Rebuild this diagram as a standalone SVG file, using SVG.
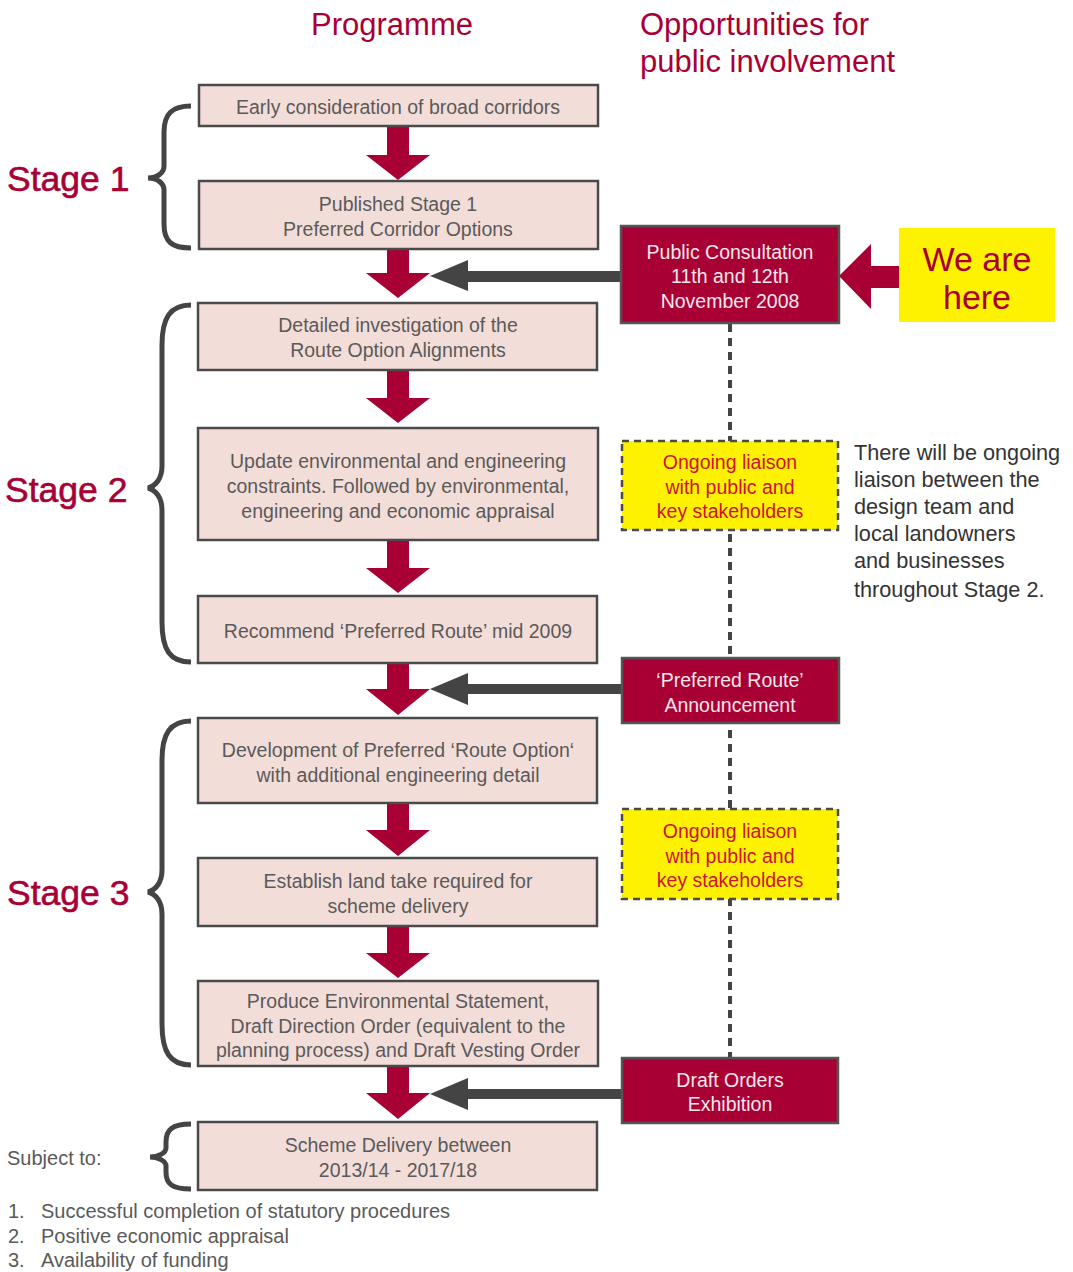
<svg xmlns="http://www.w3.org/2000/svg" width="1073" height="1272" viewBox="0 0 1073 1272">
<style>
.t{font-family:"Liberation Sans",Arial,sans-serif;}
.box{fill:#f3ddd8;stroke:#4a4a4a;stroke-width:2.5;}
.bt{font-size:19.5px;fill:#5a5a5a;text-anchor:middle;}
.red{fill:#a80034;stroke:#555;stroke-width:2.5;}
.rt{font-size:19.5px;fill:#f6e6ea;text-anchor:middle;}
.yel{fill:#fff200;stroke:#4a4a4a;stroke-width:2.5;stroke-dasharray:7 5;}
.yt{font-size:19.5px;fill:#cc1236;text-anchor:middle;}
.stage{font-size:35.5px;fill:#a80034;stroke:#a80034;stroke-width:0.6;}
.hd{font-size:31px;fill:#a80034;}
.brace{fill:none;stroke:#444;stroke-width:5;}
.darr{fill:#a80034;}
.garr{fill:#444;}
.note{font-size:21.7px;fill:#333;}
.ft{font-size:20px;fill:#5a5a5a;}
</style>
<g id="headers">
<text class="t hd" x="392" y="35" text-anchor="middle">Programme</text>
<text class="t hd" x="640" y="35">Opportunities for</text>
<text class="t hd" x="640" y="72">public involvement</text>
</g>
<g id="stage-labels">
<text class="t stage" x="7" y="191">Stage 1</text>
<text class="t stage" x="5" y="502">Stage 2</text>
<text class="t stage" x="7" y="905">Stage 3</text>
</g>
<g id="braces">
<path class="brace" d="M191,106 C172,106 164,114 164,132 L164,166 C164,173 157,178 148,178 C157,178 164,183 164,190 L164,224 C164,242 172,248 191,248"/>
<path class="brace" d="M191,305 C170,305 162,318 162,345 L162,466 C162,478 156,486 148,488 C156,490 162,498 162,510 L162,622 C162,650 170,662 191,662"/>
<path class="brace" d="M191,721 C170,721 162,734 162,760 L162,870 C162,882 156,890 148,892 C156,894 162,902 162,914 L162,1024 C162,1052 170,1065 191,1065"/>
<path class="brace" d="M191,1124 C172,1124 166,1130 166,1142 L166,1148 C166,1153 158,1157 150,1157 C158,1157 166,1161 166,1166 L166,1172 C166,1184 172,1189 191,1189"/>
</g>
<g id="connectors">
<line x1="730" y1="324" x2="730" y2="1058" stroke="#444" stroke-width="4" stroke-dasharray="8 6"/>
<polygon class="darr" points="387,126 409,126 409,155 430,155 398,180 366,155 387,155"/>
<polygon class="darr" points="387,249 409,249 409,273 430,273 398,298 366,273 387,273"/>
<polygon class="darr" points="387,370 409,370 409,398 430,398 398,423 366,398 387,398"/>
<polygon class="darr" points="387,540 409,540 409,568 430,568 398,593 366,568 387,568"/>
<polygon class="darr" points="387,663 409,663 409,689 430,689 398,715 366,689 387,689"/>
<polygon class="darr" points="387,803 409,803 409,830 430,830 398,856 366,830 387,830"/>
<polygon class="darr" points="387,926 409,926 409,953 430,953 398,978 366,953 387,953"/>
<polygon class="darr" points="387,1066 409,1066 409,1093 430,1093 398,1119 366,1093 387,1093"/>
<polygon class="garr" points="622,271 468,271 468,260 430,276 468,291 468,282 622,282"/>
<polygon class="garr" points="622,684 468,684 468,673 430,689 468,705 468,694 622,694"/>
<polygon class="garr" points="622,1089 468,1089 468,1078 430,1094 468,1110 468,1099 622,1099"/>
<polygon class="darr" points="839,276 871,244 871,266 899,266 899,288 871,288 871,309"/>
</g>
<g id="n1"><rect class="box" x="199" y="85" width="399" height="41"/><text class="t bt" x="398" y="114">Early consideration of broad corridors</text></g>
<g id="n2"><rect class="box" x="199" y="181" width="399" height="68"/><text class="t bt" x="398" y="211">Published Stage 1</text><text class="t bt" x="398" y="236">Preferred Corridor Options</text></g>
<g id="n3"><rect class="box" x="198" y="303" width="399" height="67"/><text class="t bt" x="398" y="332">Detailed investigation of the</text><text class="t bt" x="398" y="357">Route Option Alignments</text></g>
<g id="n4"><rect class="box" x="198" y="428" width="400" height="112"/><text class="t bt" x="398" y="468">Update environmental and engineering</text><text class="t bt" x="398" y="493">constraints. Followed by environmental,</text><text class="t bt" x="398" y="518">engineering and economic appraisal</text></g>
<g id="n5"><rect class="box" x="198" y="596" width="399" height="67"/><text class="t bt" x="398" y="638">Recommend ‘Preferred Route’ mid 2009</text></g>
<g id="n6"><rect class="box" x="198" y="718" width="399" height="85"/><text class="t bt" x="398" y="757">Development of Preferred ‘Route Option‘</text><text class="t bt" x="398" y="782">with additional engineering detail</text></g>
<g id="n7"><rect class="box" x="198" y="858" width="399" height="68"/><text class="t bt" x="398" y="888">Establish land take required for</text><text class="t bt" x="398" y="913">scheme delivery</text></g>
<g id="n8"><rect class="box" x="198" y="981" width="400" height="85"/><text class="t bt" x="398" y="1008">Produce Environmental Statement,</text><text class="t bt" x="398" y="1033">Draft Direction Order (equivalent to the</text><text class="t bt" x="398" y="1057">planning process) and Draft Vesting Order</text></g>
<g id="n9"><rect class="box" x="198" y="1122" width="399" height="68"/><text class="t bt" x="398" y="1152">Scheme Delivery between</text><text class="t bt" x="398" y="1177">2013/14 - 2017/18</text></g>
<g id="consultation"><rect class="red" x="621" y="226" width="218" height="97"/><text class="t rt" x="730" y="259">Public Consultation</text><text class="t rt" x="730" y="283">11th and 12th</text><text class="t rt" x="730" y="308">November 2008</text></g>
<g id="we-are-here"><rect x="899" y="228" width="156" height="94" fill="#fff200"/><text class="t" x="977" y="271" font-size="34" fill="#a80034" text-anchor="middle">We are</text><text class="t" x="977" y="309" font-size="34" fill="#a80034" text-anchor="middle">here</text></g>
<g id="liaison1"><rect class="yel" x="622" y="441" width="216" height="89"/><text class="t yt" x="730" y="469">Ongoing liaison</text><text class="t yt" x="730" y="494">with public and</text><text class="t yt" x="730" y="518">key stakeholders</text></g>
<g id="announcement"><rect class="red" x="622" y="658" width="217" height="65"/><text class="t rt" x="730" y="687">‘Preferred Route’</text><text class="t rt" x="730" y="712">Announcement</text></g>
<g id="liaison2"><rect class="yel" x="622" y="809" width="216" height="90"/><text class="t yt" x="730" y="838">Ongoing liaison</text><text class="t yt" x="730" y="863">with public and</text><text class="t yt" x="730" y="887">key stakeholders</text></g>
<g id="draft-orders"><rect class="red" x="622" y="1058" width="216" height="65"/><text class="t rt" x="730" y="1087">Draft Orders</text><text class="t rt" x="730" y="1111">Exhibition</text></g>
<g id="note">
<text class="t note" x="854" y="460">There will be ongoing</text>
<text class="t note" x="854" y="487">liaison between the</text>
<text class="t note" x="854" y="514">design team and</text>
<text class="t note" x="854" y="541">local landowners</text>
<text class="t note" x="854" y="568">and businesses</text>
<text class="t note" x="854" y="597">throughout Stage 2.</text>
</g>
<g id="footer">
<text class="t ft" x="7" y="1165">Subject to:</text>
<text class="t ft" x="8" y="1218">1.</text><text class="t ft" x="41" y="1218">Successful completion of statutory procedures</text>
<text class="t ft" x="8" y="1243">2.</text><text class="t ft" x="41" y="1243">Positive economic appraisal</text>
<text class="t ft" x="8" y="1267">3.</text><text class="t ft" x="41" y="1267">Availability of funding</text>
</g>
</svg>
